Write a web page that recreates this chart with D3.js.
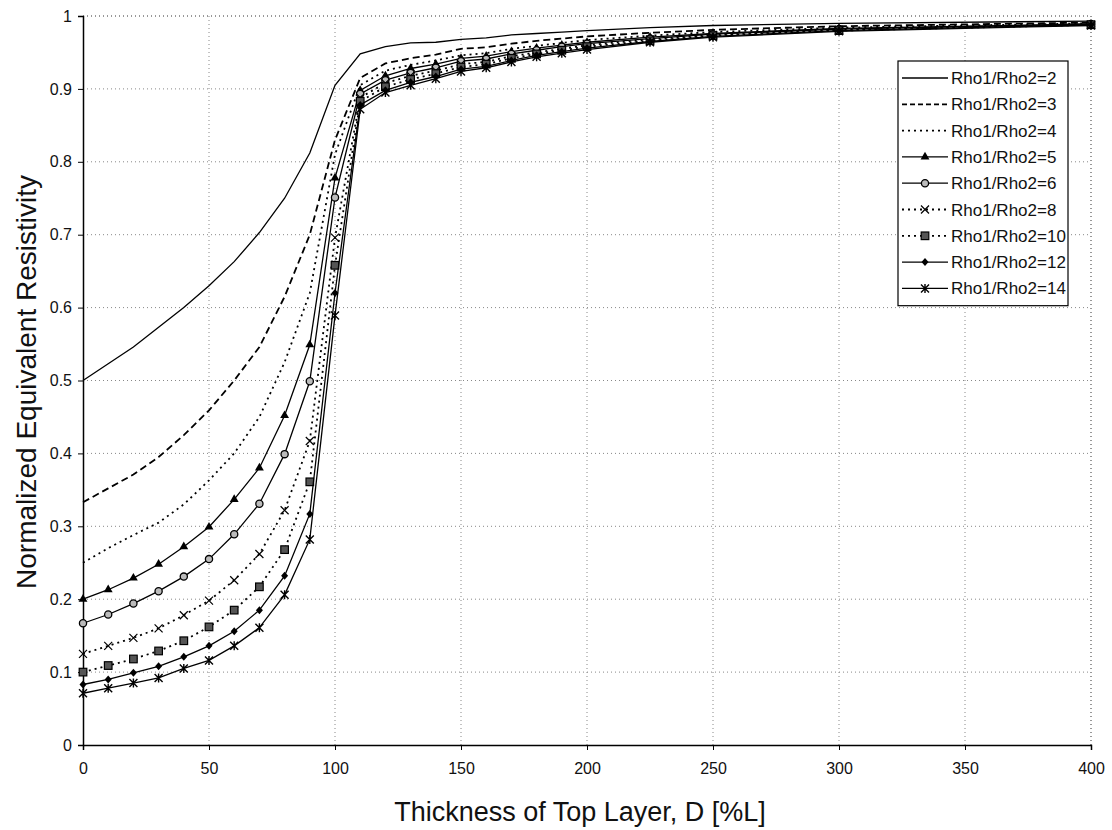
<!DOCTYPE html>
<html>
<head>
<meta charset="utf-8">
<script src="https://cdn.jsdelivr.net/npm/d3@7"></script>
<style>
  html, body { margin: 0; padding: 0; background: #fff; }
  svg { display: block; }
  text { font-family: "Liberation Sans", Arial, sans-serif; fill: #111; }
</style>
</head>
<body>
<svg id="chart" width="1112" height="830"></svg>
<script>
// ---- data ----
const thickness = [0,10,20,30,40,50,60,70,80,90,100,110,120,130,140,150,160,170,180,190,200,225,250,300,400];

const rho2  = [0.500,0.523,0.546,0.573,0.600,0.630,0.663,0.703,0.750,0.812,0.905,0.948,0.958,0.963,0.964,0.968,0.970,0.974,0.976,0.978,0.980,0.984,0.987,0.990,0.993];
const rho3  = [0.333,0.352,0.371,0.395,0.425,0.459,0.500,0.546,0.615,0.700,0.830,0.915,0.935,0.942,0.947,0.955,0.957,0.962,0.966,0.969,0.972,0.977,0.981,0.986,0.991];
const rho4  = [0.250,0.270,0.288,0.305,0.330,0.363,0.400,0.450,0.525,0.620,0.810,0.905,0.925,0.933,0.939,0.946,0.949,0.955,0.959,0.963,0.967,0.973,0.978,0.984,0.990];
const rho5  = [0.200,0.213,0.229,0.248,0.272,0.299,0.337,0.380,0.452,0.549,0.778,0.898,0.918,0.928,0.934,0.942,0.945,0.951,0.956,0.960,0.964,0.971,0.976,0.983,0.989];
const rho6  = [0.167,0.179,0.194,0.211,0.231,0.255,0.289,0.331,0.399,0.499,0.751,0.893,0.912,0.922,0.929,0.938,0.941,0.948,0.953,0.958,0.962,0.969,0.975,0.982,0.989];
const rho8  = [0.125,0.136,0.147,0.160,0.178,0.198,0.226,0.262,0.322,0.417,0.696,0.888,0.908,0.918,0.925,0.934,0.937,0.945,0.950,0.955,0.960,0.968,0.974,0.981,0.988];
const rho10 = [0.100,0.109,0.118,0.129,0.143,0.162,0.185,0.217,0.268,0.361,0.658,0.883,0.903,0.913,0.921,0.930,0.934,0.942,0.948,0.953,0.958,0.966,0.973,0.980,0.988];
const rho12 = [0.083,0.090,0.099,0.108,0.121,0.136,0.156,0.185,0.232,0.317,0.620,0.878,0.898,0.909,0.917,0.927,0.931,0.939,0.946,0.951,0.956,0.965,0.972,0.980,0.988];
const rho14 = [0.071,0.078,0.085,0.092,0.105,0.116,0.136,0.161,0.206,0.282,0.589,0.872,0.895,0.905,0.914,0.924,0.929,0.937,0.944,0.949,0.954,0.964,0.971,0.979,0.987];

const seriesNames = ["Rho1/Rho2=2","Rho1/Rho2=3","Rho1/Rho2=4","Rho1/Rho2=5","Rho1/Rho2=6","Rho1/Rho2=8","Rho1/Rho2=10","Rho1/Rho2=12","Rho1/Rho2=14"];
const seriesValues = [rho2, rho3, rho4, rho5, rho6, rho8, rho10, rho12, rho14];

const xTicks = [0,50,100,150,200,250,300,350,400];
const yTicks = [0,0.1,0.2,0.3,0.4,0.5,0.6,0.7,0.8,0.9,1];
const xTitle = "Thickness of Top Layer, D [%L]";
const yTitle = "Normalized Equivalent Resistivity";

// ---- styles ----
const dashes  = ["none","7,4","2,4","none","none","2,4","2,4","none","none"];
const markers = ["none","none","none","triangle","circle","cross","square","diamond","star"];

(function () {
const svg = d3.select("#chart");
const mLeft = 83, mRight = 1091, mTop = 16, mBottom = 745;
const x = d3.scaleLinear().domain([0,400]).range([mLeft,mRight]);
const y = d3.scaleLinear().domain([0,1]).range([mBottom,mTop]);

// grid
const grid = svg.append("g");
grid.selectAll("line.gx").data(xTicks.filter(d => d > 0)).join("line")
  .attr("x1", d => x(d)).attr("x2", d => x(d)).attr("y1", y(0)).attr("y2", y(1))
  .attr("stroke", d => d === 400 ? "#333" : "#888").attr("stroke-width", 1).attr("stroke-dasharray", "1,3");
grid.selectAll("line.gy").data(yTicks.filter(d => d > 0)).join("line")
  .attr("x1", x(0)).attr("x2", x(400)).attr("y1", d => y(d)).attr("y2", d => y(d))
  .attr("stroke", d => d === 1 ? "#333" : "#888").attr("stroke-width", 1).attr("stroke-dasharray", "1,3");

// axes
const xAxis = d3.axisBottom(x).tickValues(xTicks).tickSize(5).tickPadding(13).tickFormat(d3.format("d"));
const yAxis = d3.axisLeft(y).tickValues(yTicks).tickSize(5).tickPadding(6).tickFormat(d => d === 0 || d === 1 ? String(d) : d3.format(".1f")(d));

const gx = svg.append("g").attr("transform", `translate(0,${mBottom})`).call(xAxis);
const gy = svg.append("g").attr("transform", `translate(${mLeft},0)`).call(yAxis);
[gx, gy].forEach(g => {
  g.select(".domain").attr("stroke", "#000").attr("stroke-width", 1.5);
  g.selectAll(".tick line").attr("stroke", "#000").attr("stroke-width", 1);
  g.selectAll(".tick text").style("font-family", "'Liberation Sans', Arial, sans-serif").style("font-size", "16px").attr("fill", "#111");
});

// titles
svg.append("text").attr("x", 580).attr("y", 821).attr("text-anchor", "middle")
  .style("font-size", "27px").text(xTitle);
svg.append("text").attr("transform", `translate(36,382) rotate(-90)`).attr("text-anchor", "middle")
  .style("font-size", "28px").text(yTitle);

function drawMarker(g, type, cx, cy) {
  if (type === "triangle") {
    g.append("path").attr("d", d3.symbol(d3.symbolTriangle, 34)()).attr("transform", `translate(${cx},${cy})`).attr("fill", "#000");
  } else if (type === "circle") {
    g.append("circle").attr("cx", cx).attr("cy", cy).attr("r", 3.6).attr("fill", "#bbb").attr("stroke", "#000").attr("stroke-width", 1.3);
  } else if (type === "cross") {
    g.append("path").attr("d", `M${cx-4},${cy-4}L${cx+4},${cy+4}M${cx-4},${cy+4}L${cx+4},${cy-4}`).attr("stroke", "#000").attr("stroke-width", 1.2);
  } else if (type === "square") {
    g.append("rect").attr("x", cx - 3.8).attr("y", cy - 3.8).attr("width", 7.6).attr("height", 7.6).attr("fill", "#555").attr("stroke", "#000").attr("stroke-width", 1.2);
  } else if (type === "diamond") {
    g.append("path").attr("d", `M${cx},${cy-4}L${cx+3.5},${cy}L${cx},${cy+4}L${cx-3.5},${cy}Z`).attr("fill", "#000");
  } else if (type === "star") {
    g.append("path").attr("d", `M${cx-4},${cy-4}L${cx+4},${cy+4}M${cx-4},${cy+4}L${cx+4},${cy-4}M${cx},${cy-4.5}L${cx},${cy+4.5}`).attr("stroke", "#000").attr("stroke-width", 1.4);
  }
}

const line = d3.line().x(d => x(d[0])).y(d => y(d[1]));
const plot = svg.append("g");
seriesValues.forEach((vals, i) => {
  const pts = thickness.map((t, j) => [t, vals[j]]);
  plot.append("path").datum(pts).attr("d", line)
    .attr("fill", "none").attr("stroke", "#000")
    .attr("stroke-width", dashes[i] === "none" ? 1.3 : 1.8)
    .attr("stroke-dasharray", dashes[i] === "none" ? null : dashes[i]);
  if (markers[i] !== "none") {
    const mg = plot.append("g");
    pts.forEach(p => drawMarker(mg, markers[i], x(p[0]), y(p[1])));
  }
});

// legend
const lgX = 898, lgY = 61, lgW = 170, rowH = 26.3;
const lg = svg.append("g");
lg.append("rect").attr("x", lgX).attr("y", lgY).attr("width", lgW).attr("height", rowH * seriesNames.length + 8)
  .attr("fill", "#fff").attr("stroke", "#000").attr("stroke-width", 1.2);
seriesNames.forEach((name, i) => {
  const cy = lgY + 17 + i * rowH;
  lg.append("line").attr("x1", lgX + 4).attr("x2", lgX + 50).attr("y1", cy).attr("y2", cy)
    .attr("stroke", "#000").attr("stroke-width", dashes[i] === "none" ? 1.3 : 1.8)
    .attr("stroke-dasharray", dashes[i] === "none" ? null : (i === 1 ? "5,3" : "2,4"));
  if (markers[i] !== "none") drawMarker(lg, markers[i], lgX + 27, cy);
  lg.append("text").attr("x", lgX + 53).attr("y", cy + 6).style("font-size", "17px").text(name);
});
})();
</script>
</body>
</html>
